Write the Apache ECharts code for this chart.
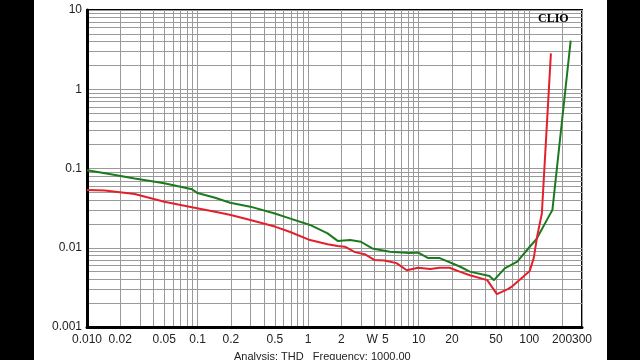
<!DOCTYPE html>
<html><head><meta charset="utf-8">
<script src="https://cdn.jsdelivr.net/npm/echarts@6/dist/echarts.min.js"></script>
<style>html,body{margin:0;padding:0;background:#fff}#c{width:640px;height:360px}</style>
</head><body><div id="c"></div>
<script>
// Output power (W) and THD (%) readings
const greenX = [0.01, 0.0146, 0.027, 0.05, 0.089, 0.1, 0.144, 0.197, 0.3, 0.5, 0.68, 1.04, 1.5, 1.85, 2.4, 3.0, 3.8, 5.5, 8.3, 9.9, 12.2, 15.5, 23.5, 29, 43.7, 48, 60, 78, 101, 116, 153, 162, 237];
const greenY = [0.095, 0.0871, 0.075, 0.065, 0.0547, 0.049, 0.0428, 0.037, 0.033, 0.027, 0.0235, 0.0194, 0.0152, 0.0122, 0.0125, 0.0119, 0.0098, 0.0089, 0.0086, 0.0087, 0.0074, 0.0074, 0.0058, 0.0050, 0.0044, 0.0039, 0.0055, 0.0067, 0.0103, 0.0128, 0.026, 0.030, 4.1];
const redX = [0.01, 0.0145, 0.027, 0.05, 0.089, 0.144, 0.2, 0.3, 0.5, 0.68, 1.04, 1.5, 1.85, 2.15, 2.65, 3.3, 4.0, 4.9, 6.3, 7.8, 9.9, 12.7, 15.5, 19, 23.5, 29, 41.7, 51, 64, 69, 101, 110, 118, 130, 157];
const redY = [0.0536, 0.0528, 0.0477, 0.0381, 0.0324, 0.0285, 0.0259, 0.0224, 0.0185, 0.0159, 0.0125, 0.0111, 0.0105, 0.0103, 0.0088, 0.0082, 0.0070, 0.0069, 0.0064, 0.0052, 0.0056, 0.0054, 0.0056, 0.0056, 0.0050, 0.0045, 0.0039, 0.0026, 0.0030, 0.0032, 0.0051, 0.0075, 0.014, 0.027, 2.84];

const xTickValues = [0.01, 0.02, 0.05, 0.1, 0.2, 0.5, 1, 2, 3.8, 5, 10, 20, 50, 100, 198, 300];
const xTickLabels = ['0.010', '0.02', '0.05', '0.1', '0.2', '0.5', '1', '2', 'W', '5', '10', '20', '50', '100', '{s|200}', '{s|300}'];
const yTickValues = [0.001, 0.01, 0.1, 1, 10];
const yTickLabels = ['0.001', '0.01', '0.1', '1', '10'];

function decadeGrid(lo, hi) {
  const out = [];
  for (let e = lo; e < hi; e++) {
    for (let m = 1; m <= 9; m++) out.push(+(m * Math.pow(10, e)).toPrecision(6));
  }
  return out;
}
const xGrid = decadeGrid(-2, 2).concat([100, 200, 300]);
const yGrid = decadeGrid(-3, 1).concat([10]);

function nearestLabel(vals, labels, v) {
  let best = 0, bd = Infinity;
  for (let i = 0; i < vals.length; i++) {
    const d = Math.abs(Math.log10(vals[i]) - Math.log10(v));
    if (d < bd) { bd = d; best = i; }
  }
  return bd < 0.01 ? labels[best] : '';
}

const chart = echarts.init(document.getElementById('c'), null, {renderer: 'canvas'});
chart.setOption({
  animation: false,
  backgroundColor: '#fff',
  grid: {left: 87, right: 58, top: 10, bottom: 33, show: true, borderColor: '#000', borderWidth: 2, backgroundColor: 'transparent'},
  xAxis: {
    type: 'log', logBase: 10, min: 0.01, max: 300,
    axisLine: {show: true, onZero: false, lineStyle: {color: '#000', width: 3}},
    axisTick: {show: false, customValues: xGrid},
    splitLine: {show: true, lineStyle: {color: '#9a9a9a', width: 1}},
    minorSplitLine: {show: false},
    axisLabel: {
      customValues: xTickValues, interval: 0, color: '#222', fontSize: 12, margin: 7,
      fontFamily: 'Liberation Sans, Arial, sans-serif',
      showMaxLabel: true, showMinLabel: true, hideOverlap: false,
      rich: {s: {fontSize: 12, color: '#222', fontFamily: 'Liberation Sans, Arial, sans-serif'}},
      formatter: v => nearestLabel(xTickValues, xTickLabels, v)
    }
  },
  yAxis: {
    type: 'log', logBase: 10, min: 0.001, max: 10,
    axisLine: {show: true, onZero: false, lineStyle: {color: '#000', width: 3}},
    axisTick: {show: false, customValues: yGrid},
    splitLine: {show: true, lineStyle: {color: '#9a9a9a', width: 1}},
    axisLabel: {
      customValues: yTickValues, interval: 0, color: '#222', fontSize: 12, margin: 5,
      fontFamily: 'Liberation Sans, Arial, sans-serif',
      formatter: v => nearestLabel(yTickValues, yTickLabels, v)
    }
  },
  series: [
    {type: 'line', name: 'L', data: greenX.map((x, i) => [x, greenY[i]]), symbol: 'none', smooth: false,
     lineStyle: {color: '#1c7a1e', width: 2}, z: 3},
    {type: 'line', name: 'R', data: redX.map((x, i) => [x, redY[i]]), symbol: 'none', smooth: false,
     lineStyle: {color: '#e3202b', width: 2}, z: 4}
  ],
  graphic: [
    {type: 'rect', left: 0, top: 0, shape: {width: 34, height: 360}, style: {fill: '#000'}, z: 100},
    {type: 'rect', left: 607, top: 0, shape: {width: 33, height: 360}, style: {fill: '#000'}, z: 100},
    {type: 'text', left: 538, top: 13, style: {text: 'CLIO', fill: '#000', font: 'bold 12px "Liberation Serif", "DejaVu Serif", serif'}, z: 50},
    {type: 'text', left: 234, top: 351, style: {text: 'Analysis: THD   Frequency: 1000.00', fill: '#222', font: '11px "Liberation Sans", Arial, sans-serif'}, z: 50}
  ]
});
</script>
</body></html>
